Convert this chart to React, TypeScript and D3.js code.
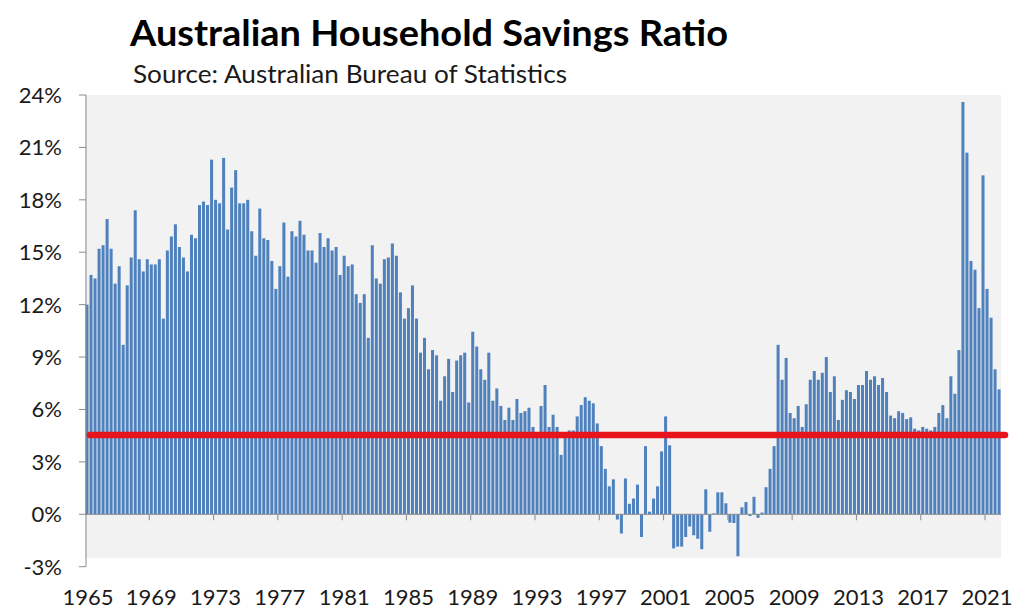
import React from "react";
import * as d3 from "d3";

// Quarterly household savings ratio (%), 228 quarters
const savingsRatio: number[] = [
  12.0, 13.7, 13.5, 15.2, 15.4, 16.9, 15.2, 13.2, 14.2, 9.7, 13.1,
  14.7, 17.4, 14.6, 13.9, 14.6, 14.3, 14.3, 14.6, 11.2, 15.1,
  15.9, 16.6, 15.3, 14.7, 13.9, 16.0, 15.8, 17.7, 17.9, 17.7,
  20.3, 18.0, 17.8, 20.4, 16.3, 18.7, 19.7, 17.8, 17.8, 18.0,
  16.2, 14.8, 17.5, 15.8, 15.7, 14.5, 12.9, 14.2, 16.7, 13.6,
  16.2, 15.9, 16.8, 16.0, 15.1, 15.1, 14.4, 16.1, 15.3, 15.8,
  15.1, 15.3, 13.7, 14.8, 14.2, 14.3, 12.6, 12.1, 12.6, 10.1,
  15.4, 13.5, 13.2, 14.6, 14.7, 15.5, 14.8, 12.7, 11.2, 11.8,
  13.1, 11.2, 9.25, 10.1, 8.3, 9.4, 9.1, 6.5, 7.9, 8.9,
  7.0, 8.8, 9.1, 9.25, 6.4, 10.45, 9.6, 8.3, 7.7, 9.25,
  6.5, 7.2, 6.2, 5.4, 6.1, 5.4, 6.6, 5.8, 5.9, 6.1,
  5.0, 4.5, 6.2, 7.4, 5.0, 5.7, 5.0, 3.4, 4.4, 4.8,
  4.8, 5.6, 6.25, 6.7, 6.5, 6.35, 5.2, 3.9, 2.6, 1.6,
  2.0, -0.3, -1.1, 2.05, 0.6, 0.9, 1.7, -1.3, 3.9, 0.15,
  0.9, 1.6, 3.6, 5.6, 3.95, -1.95, -1.85, -1.85, -1.3, -0.7,
  -1.2, -1.4, -2.0, 1.43, -1.0, 0.05, 1.26, 1.26, 0.63, -0.48,
  -0.5, -2.4, 0.4, 0.7, -0.1, 1.0, -0.2, 0.1, 1.55, 2.6,
  3.9, 9.7, 7.7, 8.95, 5.8, 5.5, 6.2, 5.0, 6.3, 7.7,
  8.2, 7.7, 8.1, 9.0, 7.0, 7.9, 5.4, 6.55, 7.1, 7.0,
  6.6, 7.4, 7.4, 8.2, 7.7, 7.9, 7.4, 7.8, 7.0, 5.65,
  5.5, 5.9, 5.8, 5.45, 5.55, 4.9, 4.8, 5.0, 4.9, 4.8,
  5.0, 5.8, 6.25, 5.5, 7.9, 6.9, 9.4, 23.6, 20.7, 14.5,
  14.0, 11.8, 19.4, 12.9, 11.25, 8.3, 7.15,
];

const averageLine = 4.54;
const yTickValues: number[] = [-3, 0, 3, 6, 9, 12, 15, 18, 21, 24];
const xTickLabels: string[] = [
  "1965", "1969", "1973", "1977", "1981", "1985", "1989", "1993",
  "1997", "2001", "2005", "2009", "2013", "2017", "2021",
];
const quartersPerLabel = 16;

const title = "Australian Household Savings Ratio";
const subtitle = "Source: Australian Bureau of Statistics";

const FONT = "Lato, 'Open Sans', sans-serif";

export default function App() {
  const W = 1024;
  const H = 615;
  const left = 85;
  const right = 1001.1;
  const top = 95;
  const bottom = 566.7;

  const idx = savingsRatio.map((_, i) => i);
  const x = d3
    .scaleBand<number>()
    .domain(idx)
    .range([left, right])
    .paddingInner(0.25)
    .paddingOuter(0.125);
  const step = x.step();
  const y = d3.scaleLinear().domain([-3, 24]).range([bottom, top]);
  const y0 = y(0);

  const boundary = (k: number) => left + k * step;

  return (
    <svg
      width={W}
      height={H}
      style={{ position: "absolute", left: 0, top: 0, background: "#fff" }}
      fontFamily={FONT}
    >
      <rect x={0} y={0} width={W} height={H} fill="#ffffff" />
      {/* plot area */}
      <rect x={left} y={top} width={right - left} height={558 - top} fill="#f2f2f2" />

      {/* bars */}
      {savingsRatio.map((v, i) => (
        <rect
          key={i}
          x={x(i)!}
          y={Math.min(y(v), y0)}
          width={x.bandwidth()}
          height={Math.abs(y(v) - y0)}
          fill="#4f81bd"
        />
      ))}

      {/* x axis line at zero */}
      <line x1={left} x2={right} y1={y0} y2={y0} stroke="#8c8c8c" strokeWidth={1} />
      {xTickLabels.map((lab, m) =>
        m === 0 ? null : (
          <line
            key={"xt" + m}
            x1={boundary(m * quartersPerLabel)}
            x2={boundary(m * quartersPerLabel)}
            y1={y0}
            y2={y0 + 6}
            stroke="#8c8c8c"
            strokeWidth={1}
          />
        )
      )}

      {/* y axis */}
      <line x1={left + 1} x2={left + 1} y1={top} y2={bottom} stroke="#8c8c8c" strokeWidth={1} />
      {yTickValues.map((t) => (
        <g key={"yt" + t}>
          <line x1={left - 6} x2={left + 1} y1={y(t)} y2={y(t)} stroke="#8c8c8c" strokeWidth={1} />
          <text
            x={62}
            y={y(t)}
            dy="0.36em"
            textAnchor="end"
            fontSize={22}
            fill="#1a1a1a"
          >
            {`${t}%`}
          </text>
        </g>
      ))}

      {/* x labels */}
      {xTickLabels.map((lab, m) => (
        <text
          key={"xl" + m}
          x={boundary(m * quartersPerLabel) + (m === 0 ? 3 : 2)}
          y={605}
          textAnchor="middle"
          fontSize={22}
          fill="#1a1a1a"
        >
          {lab}
        </text>
      ))}

      {/* average line */}
      <line
        x1={left + 5}
        x2={1005}
        y1={y(averageLine)}
        y2={y(averageLine)}
        stroke="#e8141b"
        strokeWidth={6.5}
        strokeLinecap="round"
      />

      {/* titles */}
      <text
        x={130}
        y={46}
        fontSize={36}
        fontWeight={700}
        fill="#000"
        textLength={598}
        lengthAdjust="spacingAndGlyphs"
      >
        {title}
      </text>
      <text
        x={133}
        y={83}
        fontSize={25}
        fill="#1a1a1a"
        textLength={434}
        lengthAdjust="spacingAndGlyphs"
      >
        {subtitle}
      </text>
    </svg>
  );
}
